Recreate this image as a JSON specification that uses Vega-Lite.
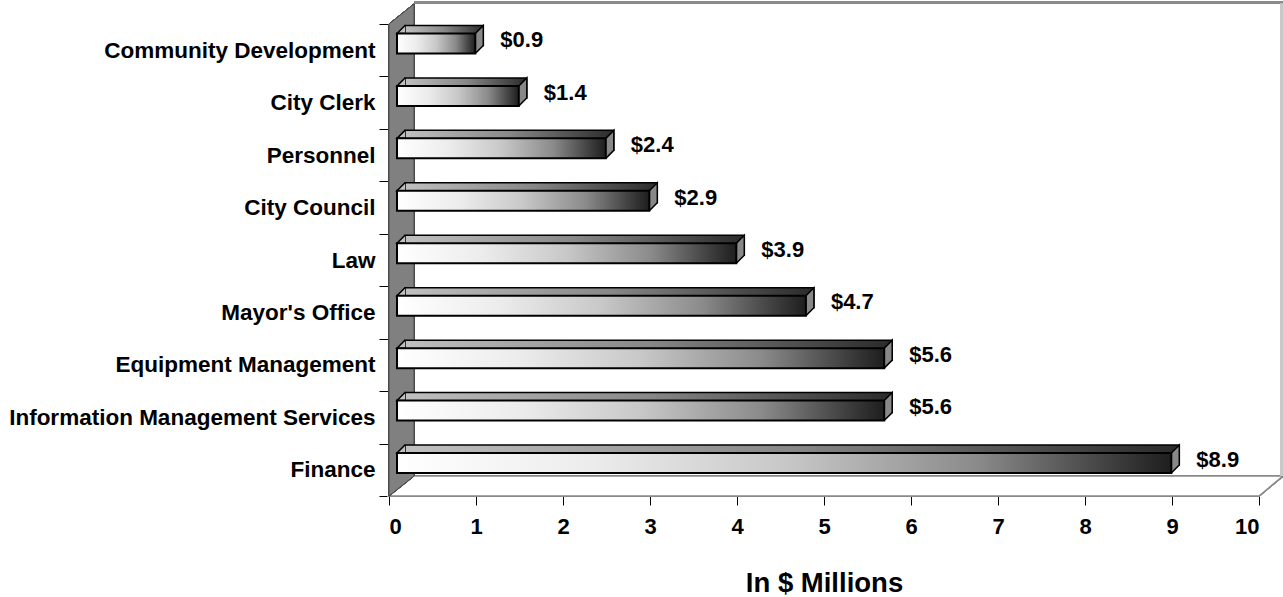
{
  "$schema": "https://vega.github.io/schema/vega-lite/v6.json",
  "width": 870,
  "height": 472,
  "autosize": {"type": "none"},
  "padding": {"left": 389, "top": 24, "right": 24, "bottom": 101},
  "background": "white",
  "config": {
    "view": {"stroke": null},
    "font": "Liberation Sans",
    "axis": {"grid": false, "zindex": 1}
  },
  "data": {
    "values": [
      {"dept": "Community Development\u00a0", "value": 0.9},
      {"dept": "City Clerk", "value": 1.4},
      {"dept": "Personnel", "value": 2.4},
      {"dept": "City Council", "value": 2.9},
      {"dept": "Law", "value": 3.9},
      {"dept": "Mayor's Office", "value": 4.7},
      {"dept": "Equipment Management", "value": 5.6},
      {"dept": "Information Management Services\u00a0", "value": 5.6},
      {"dept": "Finance", "value": 8.9}
    ]
  },
  "encoding": {
    "y": {
      "field": "dept",
      "type": "nominal",
      "sort": null,
      "scale": {
        "domain": ["Community Development\u00a0", "City Clerk", "Personnel", "City Council", "Law", "Mayor's Office", "Equipment Management", "Information Management Services\u00a0", "Finance"],
        "paddingInner": 0,
        "paddingOuter": 0
      },
      "axis": {
        "title": null,
        "tickBand": "extent",
        "tickSize": 10,
        "tickColor": "black",
        "domainColor": "black",
        "labelFontSize": 22.5,
        "labelFontWeight": "bold",
        "labelColor": "black",
        "labelPadding": 4,
        "labelLimit": 400
      }
    }
  },
  "layer": [
    {
      "mark": {"type": "point", "shape": "M0,26.2 L870,26.2 L894,6.2 L25,6.2 Z", "size": 4, "fill": "white", "stroke": "#8a8a8a", "strokeWidth": 1.5, "opacity": 1},
      "encoding": {"x": {"datum": 0, "type": "quantitative"}, "y": {"datum": "Finance"}}
    },
    {
      "mark": {"type": "point", "shape": "M25,-467.3 L894,-467.3", "size": 4, "fill": null, "stroke": "#8a8a8a", "strokeWidth": 3, "opacity": 1},
      "encoding": {"x": {"datum": 0, "type": "quantitative"}, "y": {"datum": "Finance"}}
    },
    {
      "mark": {"type": "point", "shape": "M892.5,-466 L892.5,6.2", "size": 4, "fill": null, "stroke": "#c8c8c8", "strokeWidth": 2, "opacity": 1},
      "encoding": {"x": {"datum": 0, "type": "quantitative"}, "y": {"datum": "Finance"}}
    },
    {
      "mark": {"type": "point", "shape": "M0,26.2 L0,-445.8 L25,-465.8 L25,6.2 Z", "size": 4, "fill": "#808080", "stroke": "#4a4a4a", "strokeWidth": 1, "opacity": 1},
      "encoding": {"x": {"datum": 0, "type": "quantitative"}, "y": {"datum": "Finance"}}
    },
    {
      "mark": {
        "type": "bar",
        "height": 20,
        "xOffset": 16,
        "x2Offset": 16,
        "yOffset": -14.75,
        "stroke": "black",
        "strokeWidth": 1.5,
        "color": {
          "gradient": "linear",
          "x1": 0, "y1": 0, "x2": 1, "y2": 0,
          "stops": [
            {"offset": 0, "color": "#c0c0c0"},
            {"offset": 0.5, "color": "#888888"},
            {"offset": 1, "color": "#2a2a2a"}
          ]
        }
      },
      "encoding": {
        "x": {
          "field": "value",
          "type": "quantitative",
          "scale": {"domain": [0, 10], "nice": false},
          "axis": {
            "values": [0, 1, 2, 3, 4, 5, 6, 7, 8, 9, 10],
            "format": "d",
            "title": "In $ Millions",
            "titleFontSize": 27.5,
            "titleFontWeight": "bold",
            "titleColor": "black",
            "titlePadding": 32,
            "tickSize": 9,
            "tickColor": "black",
            "domainColor": "black",
            "labelFontSize": 22,
            "labelFontWeight": "bold",
            "labelColor": "black",
            "labelPadding": 11
          }
        }
      }
    },
    {
      "mark": {"type": "point", "shape": "M8,-16.75 L0,-16.75 L8,-24.75", "size": 4, "xOffset": 8, "fill": "#c0c0c0", "stroke": "black", "strokeWidth": 1.5, "opacity": 1},
      "encoding": {"x": {"datum": 0, "type": "quantitative"}}
    },
    {
      "mark": {"type": "point", "shape": "M0,-16.75 L8,-24.75 L8,-4.75 L0,3.25", "size": 4, "xOffset": 8, "fill": "#888888", "stroke": "black", "strokeWidth": 1.5, "opacity": 1},
      "encoding": {"x": {"field": "value", "type": "quantitative"}}
    },
    {
      "mark": {
        "type": "bar",
        "height": 20,
        "xOffset": 8,
        "x2Offset": 8,
        "yOffset": -6.75,
        "stroke": "black",
        "strokeWidth": 2,
        "color": {
          "gradient": "linear",
          "x1": 0, "y1": 0, "x2": 1, "y2": 0,
          "stops": [
            {"offset": 0, "color": "#ffffff"},
            {"offset": 0.25, "color": "#ececec"},
            {"offset": 0.5, "color": "#c8c8c8"},
            {"offset": 0.75, "color": "#8a8a8a"},
            {"offset": 0.92, "color": "#404040"},
            {"offset": 1, "color": "#1e1e1e"}
          ]
        }
      },
      "encoding": {"x": {"field": "value", "type": "quantitative"}}
    },
    {
      "mark": {"type": "text", "align": "left", "baseline": "middle", "dx": 33, "dy": -10, "fontSize": 22, "fontWeight": "bold", "color": "black"},
      "encoding": {
        "x": {"field": "value", "type": "quantitative"},
        "text": {"field": "value", "type": "quantitative", "format": "$.1f"}
      }
    }
  ]
}
